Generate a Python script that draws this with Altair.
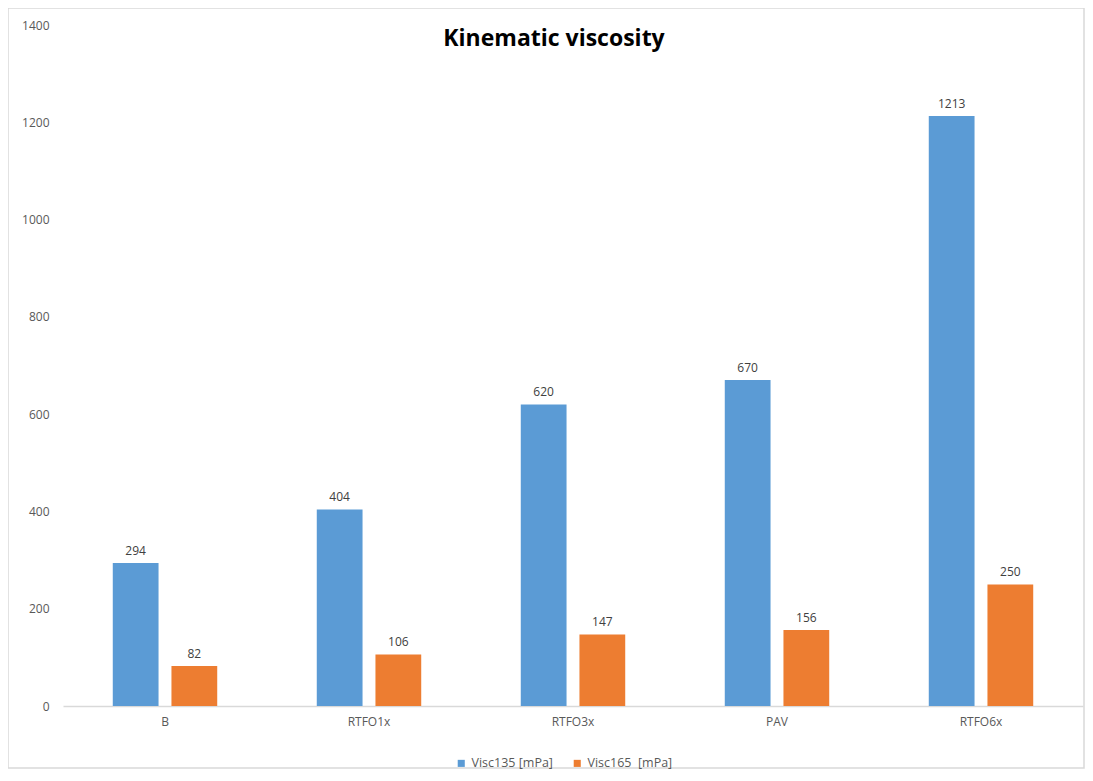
import altair as alt
import pandas as pd

categories = ["B", "RTFO1x", "RTFO3x", "PAV", "RTFO6x"]
visc135 = [294, 404, 620, 670, 1213]
visc165 = [82, 106, 147, 156, 250]
series = ["Visc135 [mPa]", "Visc165\u00a0 [mPa]"]
colors = ["#5B9BD5", "#ED7D31"]

rows = []
for c, a, b in zip(categories, visc135, visc165):
    rows.append({"cat": c, "series": series[0], "value": a})
    rows.append({"cat": c, "series": series[1], "value": b})
df = pd.DataFrame(rows)

W, H = 1020, 681
FONT = "Open Sans"

x = alt.X("cat:N", sort=categories, title=None,
          scale=alt.Scale(paddingInner=0.488, paddingOuter=0.244),
          axis=alt.Axis(labelAngle=0, ticks=False, domainColor="#d9d9d9", domainWidth=1.3,
                        labelPadding=10, labelFontSize=12, labelColor="#595959", labelFont=FONT))
xo = alt.XOffset("series:N", sort=series, scale=alt.Scale(paddingInner=0.22, paddingOuter=0))
y = alt.Y("value:Q", title=None,
          scale=alt.Scale(domain=[0, 1400], nice=False),
          axis=alt.Axis(values=[0, 200, 400, 600, 800, 1000, 1200, 1400], format="d", grid=False,
                        domain=False, ticks=False, labelPadding=14, labelFontSize=12,
                        labelColor="#595959", labelFont=FONT))
color = alt.Color("series:N", sort=series, scale=alt.Scale(domain=series, range=colors),
                  legend=alt.Legend(title=None, orient="none", direction="horizontal",
                                    legendX=392, legendY=732, symbolType="square", symbolSize=50,
                                    symbolStrokeWidth=0, labelFontSize=12.5, labelColor="#595959",
                                    labelFont=FONT, columnPadding=18, labelOffset=4))

base = alt.Chart(df)
bars = base.mark_bar().encode(x=x, xOffset=xo, y=y, color=color)
labels = base.mark_text(dy=-12, fontSize=12, color="#404040", font=FONT).encode(
    x=x, xOffset=xo, y=y, text=alt.Text("value:Q"))

frame = alt.Chart(pd.DataFrame({"a": [0]})).mark_rect(
    fill=None, stroke="#d9d9d9", strokeWidth=1.5).encode(
    x=alt.value(-55), x2=alt.value(W + 1), y=alt.value(-17), y2=alt.value(H + 62))

chart = alt.layer(frame, bars, labels).properties(
    width=W, height=H,
    autosize=alt.AutoSizeParams(type="none"),
    padding={"left": 55, "top": 17, "right": 2, "bottom": 65},
    title=alt.TitleParams("Kinematic viscosity", fontSize=23, fontWeight="bold", font=FONT,
                          color="#000000", anchor="middle", offset=-44, dx=-19),
).configure_view(stroke=None)

chart.save("out.html", embed_options={"renderer": "svg", "actions": False})
